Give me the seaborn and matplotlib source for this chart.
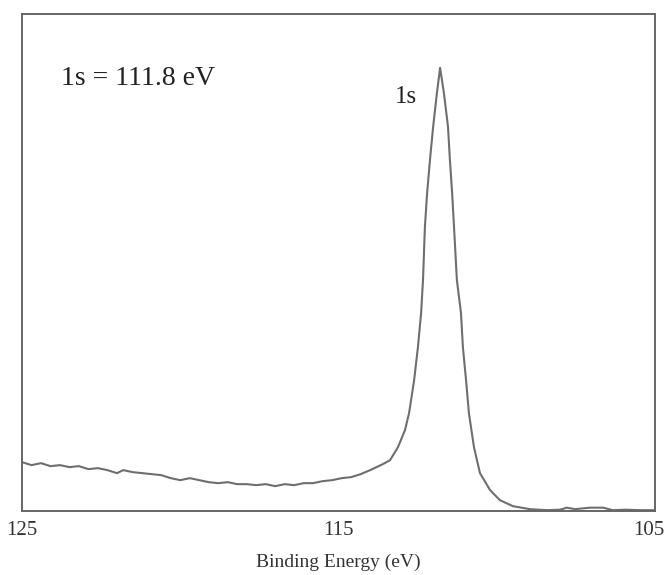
import matplotlib
matplotlib.use("Agg")
import matplotlib.pyplot as plt
import matplotlib.transforms as mtransforms
import seaborn as sns
import pandas as pd

# Binding energy (eV) and intensity (arbitrary units)
energy = [125.0, 124.7, 124.4, 124.1, 123.8, 123.5, 123.2, 122.9, 122.6, 122.3,
          122.0, 121.8, 121.5, 121.2, 120.9, 120.6, 120.3, 120.0, 119.7, 119.4,
          119.1, 118.8, 118.5, 118.2, 117.9, 117.6, 117.3, 117.0, 116.7, 116.4,
          116.1, 115.8, 115.5, 115.2, 114.9, 114.6, 114.3, 114.0, 113.8, 113.6,
          113.37, 113.12, 112.90, 112.77, 112.61, 112.49, 112.39, 112.33, 112.27,
          112.20, 112.11, 112.01, 111.89, 111.79, 111.67, 111.54, 111.48, 111.41,
          111.35, 111.26, 111.13, 111.07, 110.97, 110.88, 110.72, 110.53, 110.21,
          109.90, 109.49, 108.95, 108.41, 108.00, 107.78, 107.53, 107.05, 106.64,
          106.33, 105.95, 105.47, 105.0]
intensity = [49, 46, 48, 45, 46, 44, 45, 42, 43, 41,
             38, 41, 39, 38, 37, 36, 33, 31, 33, 31,
             29, 28, 29, 27, 27, 26, 27, 25, 27, 26,
             28, 28, 30, 31, 33, 34, 37, 41, 44, 47,
             51, 64, 81, 98, 131, 164, 198, 231, 284,
             318, 351, 384, 418, 443, 418, 384, 351, 318,
             284, 231, 198, 164, 131, 98, 64, 38, 21,
             11, 5, 2, 1, 1.5, 3.5, 2, 3.5, 3.5,
             1, 1.5, 1, 1]

tick_values = [125, 123, 121, 119, 117, 115, 113, 111, 109, 107, 105]
tick_labels = ["125", "", "", "", "", "115", "", "", "", "", "105"]

sns.set_style("white")
plt.rcParams['font.family'] = ['Liberation Serif', 'DejaVu Serif']

df = pd.DataFrame({"Binding Energy (eV)": energy, "Intensity": intensity})

fig = plt.figure(figsize=(6.67, 5.75), dpi=100)
ax = fig.add_axes([0.033, 0.111, 0.949, 0.865])
sns.lineplot(data=df, x="Binding Energy (eV)", y="Intensity", ax=ax,
             color="#6e6e6e", linewidth=1.5)

ax.set_xlim(125, 105)
ax.set_ylim(0, 497)
ax.set_yticks([])
ax.set_ylabel("")
ax.set_xticks(tick_values)
ax.set_xticklabels(tick_labels, fontsize=15, color="#333333")
ax.tick_params(axis="x", direction="in", length=4, width=1, color="#666666", pad=7)
ax.set_xlabel("Binding Energy (eV)", fontsize=14, color="#333333", labelpad=10)

# nudge the right-most label inward so it stays on the canvas
last = ax.get_xticklabels()[-1]
last.set_transform(last.get_transform() +
                   mtransforms.ScaledTranslation(-6 / 100, 0, fig.dpi_scale_trans))

for sp in ax.spines.values():
    sp.set_color("#666666")
    sp.set_linewidth(1.4)

ax.text(0.062, 0.87, "1s = 111.8 eV", transform=ax.transAxes, fontsize=20,
        color="#222222", va="center", ha="left")
ax.text(112.87, 414, "1s", fontsize=18, color="#222222", va="center", ha="center")

fig.savefig("out.png", dpi=100)
